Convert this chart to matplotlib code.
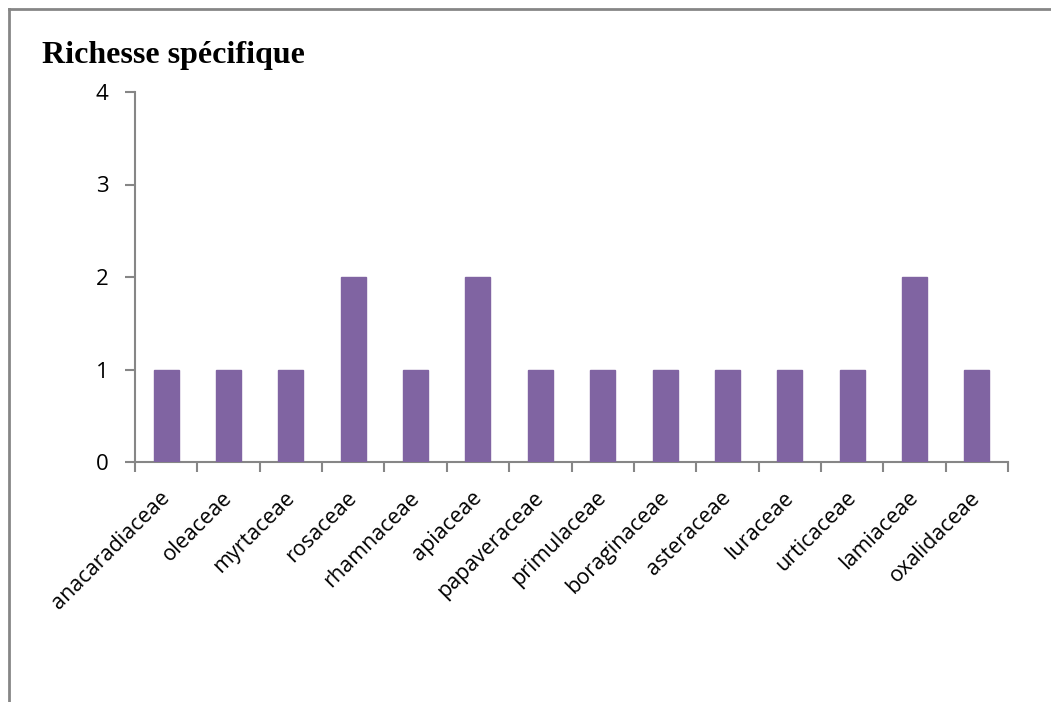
import matplotlib
matplotlib.use("Agg")
import matplotlib.pyplot as plt
import matplotlib.transforms as mtransforms
from matplotlib.lines import Line2D

families = ["anacaradiaceae", "oleaceae", "myrtaceae", "rosaceae", "rhamnaceae",
            "apiaceae", "papaveraceae", "primulaceae", "boraginaceae", "asteraceae",
            "luraceae", "urticaceae", "lamiaceae", "oxalidaceae"]
richness = [1, 1, 1, 2, 1, 2, 1, 1, 1, 1, 1, 1, 2, 1]
y_ticks = [0, 1, 2, 3, 4]

W, H = 1051, 702
fig = plt.figure(figsize=(W / 100, H / 100), dpi=100)
fig.patch.set_facecolor("white")

# chart frame (top and left edges)
frame = dict(color="#868686", lw=2.0, transform=fig.transFigure)
fig.add_artist(Line2D([8.5 / W, 1.0], [1 - 8.5 / H, 1 - 8.5 / H], **frame))
fig.add_artist(Line2D([8.5 / W, 8.5 / W], [0.0, 1 - 8.5 / H], **frame))

ax = fig.add_axes([135 / W, 1 - 462 / H, (1008 - 135) / W, (462 - 92) / H])

x = list(range(len(families)))
ax.bar(x, richness, width=0.4, color="#8064A2", edgecolor="#8064A2", zorder=3)

ax.set_xlim(-0.5, len(families) - 0.5)
ax.set_ylim(0, 4)
ax.set_yticks(y_ticks)
ax.set_yticklabels([str(v) for v in y_ticks], fontsize=16, family="Open Sans")

ax.set_xticks([i - 0.5 for i in range(len(families) + 1)], minor=False)
ax.set_xticklabels([])
ax.set_xticks(x, minor=True)
ax.set_xticklabels(families, minor=True, rotation=45, ha="right", va="top",
                   rotation_mode="anchor", fontsize=15.5, family="Open Sans")
ax.tick_params(axis="x", which="minor", length=0, pad=19)
ax.tick_params(axis="x", which="major", length=7, width=1.5, color="#868686", direction="out")
ax.tick_params(axis="y", length=7, width=1.5, color="#868686", direction="out", pad=12)

# nudge the rotated category labels slightly left
shift = mtransforms.ScaledTranslation(-7 / 100, 1 / 100, fig.dpi_scale_trans)
for lbl in ax.xaxis.get_minorticklabels():
    lbl.set_transform(lbl.get_transform() + shift)

for s in ("top", "right"):
    ax.spines[s].set_visible(False)
for s in ("left", "bottom"):
    ax.spines[s].set_color("#868686")
    ax.spines[s].set_linewidth(1.5)

fig.text(42 / W, 1 - 63 / H, "Richesse spécifique", fontsize=23,
         family="Liberation Serif", fontweight="bold", ha="left", va="baseline")

fig.savefig("out.png", dpi=100)
